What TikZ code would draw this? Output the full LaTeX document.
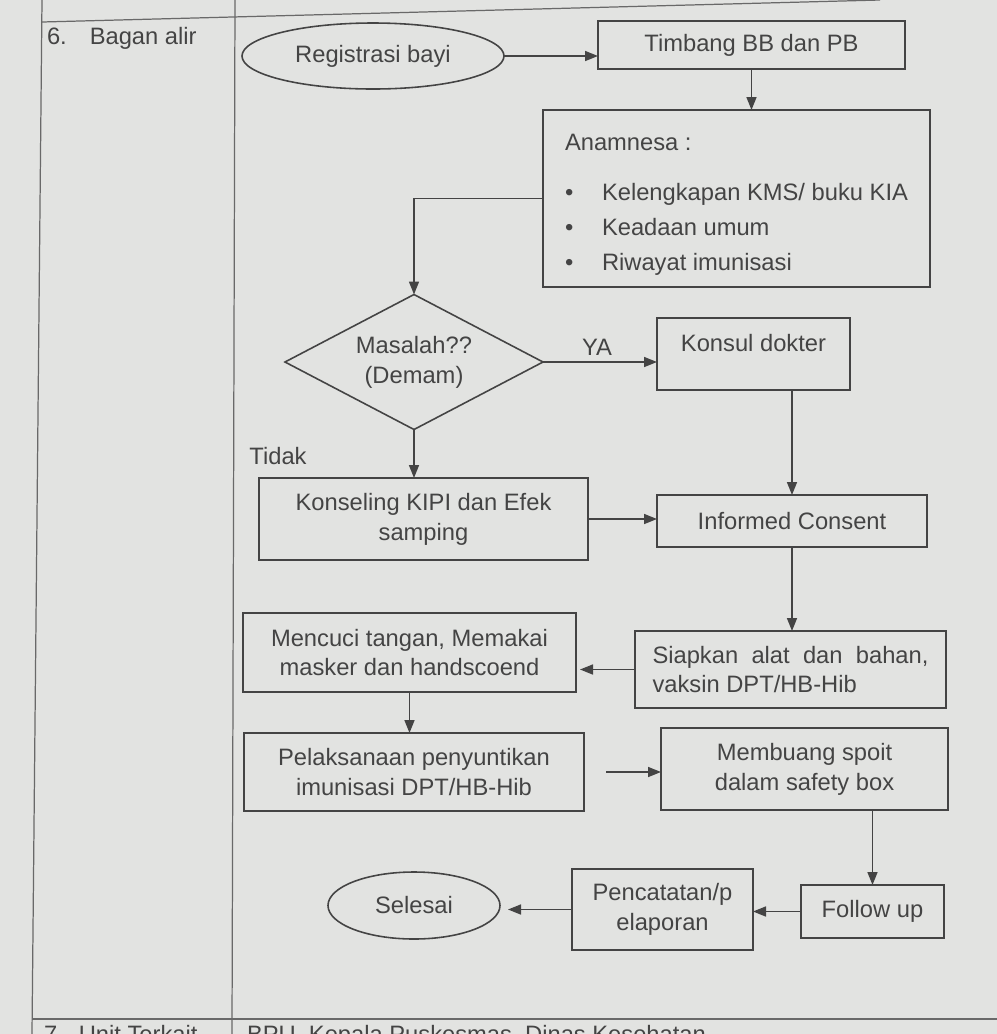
\documentclass[tikz,border=0pt]{standalone}
\usepackage{fontspec}
\setmainfont{Liberation Sans}
\usetikzlibrary{arrows.meta,shapes.geometric}

\definecolor{paper}{RGB}{226,227,225}
\definecolor{ink}{RGB}{68,68,68}
\definecolor{rule}{RGB}{105,105,105}

\begin{document}
\begin{tikzpicture}[x=0.2mm, y=-0.2mm,
    every node/.style={text=ink, font=\fontsize{13.5}{17}\selectfont, inner sep=0pt, outer sep=0pt},
    box/.style={draw=ink, line width=0.9pt, rectangle, align=center},
    oval/.style={draw=ink, line width=0.9pt, ellipse},
    cond/.style={draw=ink, line width=0.9pt, diamond, aspect=1.9, align=center},
    flow/.style={draw=ink, line width=0.9pt, -{Triangle[length=2.6mm,width=2mm]}}]
    \fill[paper] (0,0) rectangle (997,1034);
    \clip (0,0) rectangle (997,1034);
    % table
    \draw[rule, line width=0.7pt] (42,0) -- (32,1034);
    \draw[rule, line width=0.7pt] (235,0) -- (232,1034);
    \draw[rule, line width=0.7pt] (42,22) -- (880,0);
    \draw[rule, line width=0.7pt] (32,1019) -- (997,1019);
    \node[anchor=base west] (judul) at (47,44) {6.\hspace{4.6mm}Bagan alir};
    \node[anchor=base west] (unit) at (44,1042) {7.\hspace{3mm}Unit Terkait};
    \node[anchor=base west] (terkait) at (247,1042) {BPU, Kepala Puskesmas, Dinas Kesehatan};

    % flow chart
    \node[oval, minimum width=52.4mm, minimum height=13.2mm] (reg) at (373,56) {Registrasi bayi};
    \node[box, minimum width=61.4mm, minimum height=9.6mm] (tim) at (751.5,45) {Timbang BB dan PB};
    \node[box, minimum width=77.4mm, minimum height=35.4mm, align=left,
          font=\fontsize{13.5}{19.8}\selectfont] (ana) at (736.5,198.5)
        {\rule{0pt}{5.8mm}Anamnesa :\\[8.7pt]
         \makebox[7.4mm][l]{\textbullet}Kelengkapan KMS/ buku KIA\\
         \makebox[7.4mm][l]{\textbullet}Keadaan umum\\
         \makebox[7.4mm][l]{\textbullet}Riwayat imunisasi};
    \node[cond, minimum width=51.6mm, minimum height=27mm] (dia) at (414,362) {Masalah??\\(Demam)};
    \node[box, minimum width=38.6mm, minimum height=14.4mm, text height=3.5mm, text depth=4.5mm] (kon) at (753.5,354) {Konsul dokter};
    \node[box, minimum width=65.8mm, minimum height=16.4mm] (kip) at (423.5,519) {Konseling KIPI dan Efek\\samping};
    \node[box, minimum width=54mm, minimum height=10.4mm] (inf) at (792,521) {Informed Consent};
    \node[box, minimum width=66.6mm, minimum height=15.8mm] (cuci) at (409.5,652.5) {Mencuci tangan, Memakai\\masker dan handscoend};
    \node[box, minimum width=62.2mm, minimum height=15.4mm, align=left] (siap) at (790.5,669.5)
        {\makebox[55.2mm][s]{Siapkan alat dan bahan,}\\vaksin DPT/HB-Hib};
    \node[box, minimum width=68mm, minimum height=15.6mm] (pel) at (414,772) {Pelaksanaan penyuntikan\\imunisasi DPT/HB-Hib};
    \node[box, minimum width=57.4mm, minimum height=16.4mm] (buang) at (804.5,769) {Membuang spoit\\dalam safety box};
    \node[box, minimum width=28.6mm, minimum height=10.6mm] (fol) at (872.5,911.5) {Follow up};
    \node[box, minimum width=36.2mm, minimum height=16.2mm] (pen) at (662.5,909.5) {Pencatatan/p\\elaporan};
    \node[oval, minimum width=34.4mm, minimum height=13.4mm] (sel) at (414,905.5) {Selesai};
    \node (ya) at (597,347) {YA};
    \node (tidak) at (278,456) {Tidak};
    \coordinate (pelgap) at (606,772);

    \draw[flow] (reg.east) -- (reg.east -| tim.west);
    \draw[flow] (tim.south) -- (tim.south |- ana.north);
    \draw[flow] (ana.west) -| (dia.north);
    \draw[flow] (dia.east) -- (dia.east -| kon.west);
    \draw[flow] (dia.south) -- (dia.south |- kip.north);
    \draw[flow] (inf.north |- kon.south) -- (inf.north);
    \draw[flow] (kip.east) -- (inf.west |- kip.east);
    \draw[flow] (inf.south) -- (inf.south |- siap.north);
    \draw[flow, shorten >=0.8mm] (siap.west) -- (cuci.east |- siap.west);
    \draw[flow] (cuci.south) -- (cuci.south |- pel.north);
    \draw[flow] (pelgap) -- (buang.west |- pelgap);
    \draw[flow] (fol.north |- buang.south) -- (fol.north);
    \draw[flow] (fol.west) -- (pen.east |- fol.west);
    \draw[flow, shorten >=1.6mm] (pen.west) -- (sel.east |- pen.west);
\end{tikzpicture}
\end{document}
